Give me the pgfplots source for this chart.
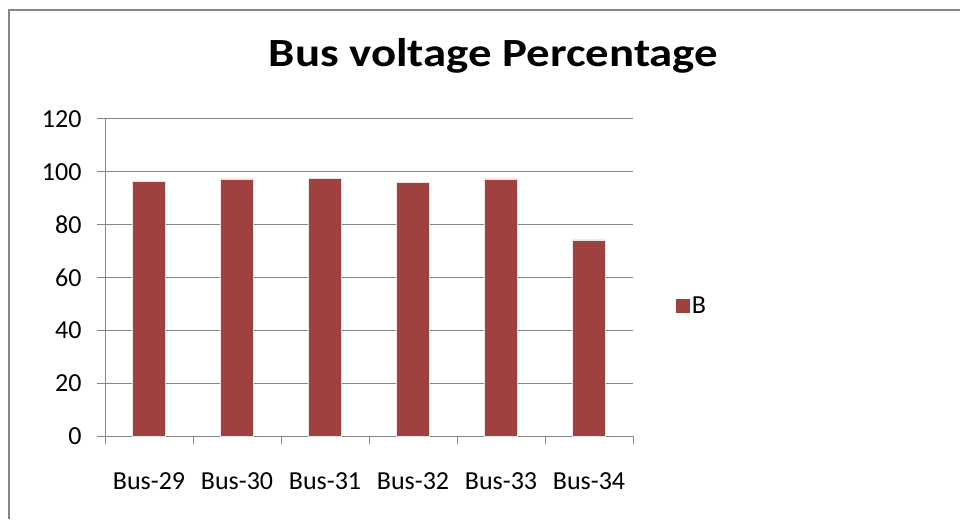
\documentclass[border=0pt]{standalone}
\usepackage{fontspec}
\setmainfont{Carlito}
\usepackage{graphicx}
\usepackage{pgfplots}
\pgfplotsset{compat=1.18}
\definecolor{barred}{RGB}{158,65,63}
\definecolor{axgray}{RGB}{134,134,134}
\begin{document}
\begin{tikzpicture}[x=1pt,y=1pt]
\useasboundingbox (0,0) rectangle (960,519);
\draw[axgray, line width=1.5pt] (9,0) -- (9,509) -- (960,509);
\node[anchor=base, inner sep=0pt] at (493.5,452) {\scalebox{1.17}[1]{\fontsize{40}{44}\selectfont\bfseries Bus voltage Percentage}};
\begin{axis}[
  at={(105pt,83pt)}, anchor=south west,
  scale only axis, width=528pt, height=317pt,
  xmin=-0.5, xmax=5.5, ymin=0, ymax=120,
  axis lines*=left,
  axis line style={axgray, line width=1pt},
  ytick={0,20,...,120},
  ymajorgrids, grid style={axgray, line width=1pt},
  xtick={0,...,5},
  xticklabels={Bus-29,Bus-30,Bus-31,Bus-32,Bus-33,Bus-34},
  minor xtick={-0.5,0.5,...,5.5},
  tick align=outside,
  major tick length=8pt, minor tick length=8pt,
  tick style={axgray, line width=1pt},
  major x tick style={draw=none},
  xticklabel style={yshift=-25pt},
  yticklabel style={xshift=-12pt},
  tick label style={font=\fontsize{26}{30}\selectfont},
  /pgf/number format/assume math mode=true,
  legend style={at={(1.0814,0.41)}, anchor=west, draw=none, fill=none,
    font=\fontsize{26}{30}\selectfont, inner sep=0pt,
    nodes={inner sep=2pt}},
  legend image code/.code={\fill[barred] (0pt,-6.5pt) rectangle (13pt,6.5pt);},
]
\addplot[ybar, bar width=33pt, fill=barred, draw=white!80!gray, line width=0.6pt]
  coordinates {(0,96.5) (1,97.3) (2,97.5) (3,96.1) (4,97.3) (5,74.2)};
\addlegendentry{B}
\end{axis}
\end{tikzpicture}
\end{document}
